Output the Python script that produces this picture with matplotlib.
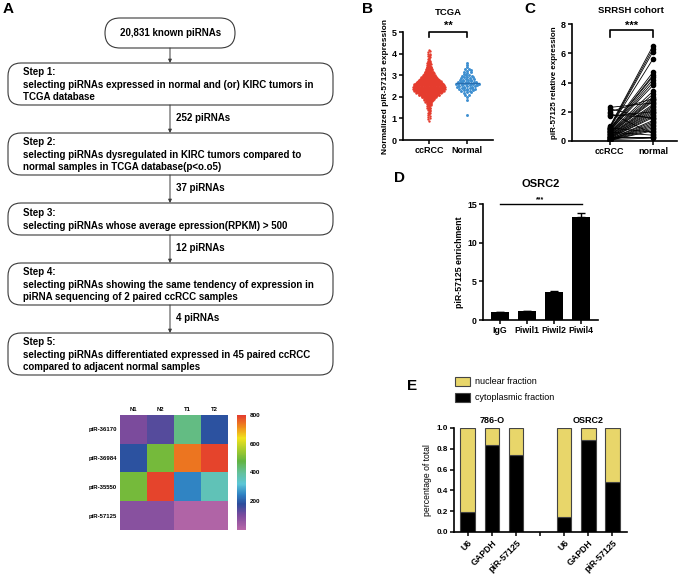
import numpy as np
import matplotlib
matplotlib.use("Agg")
import matplotlib.pyplot as plt
from matplotlib.patches import FancyBboxPatch, Rectangle
from matplotlib.colors import LinearSegmentedColormap

plt.rcParams["font.family"] = ["Liberation Sans", "DejaVu Sans"]
plt.rcParams["font.weight"] = "bold"
plt.rcParams["axes.labelweight"] = "bold"

W, H = 685, 574

# ---- data ----
flow_top = "20,831 known piRNAs"
flow_steps = [
    "Step 1:\nselecting piRNAs expressed in normal and (or) KIRC tumors in\nTCGA database",
    "Step 2:\nselecting piRNAs dysregulated in KIRC tumors compared to\nnormal samples in TCGA database(p<o.o5)",
    "Step 3:\nselecting piRNAs whose average epression(RPKM) > 500",
    "Step 4:\nselecting piRNAs showing the same tendency of expression in\npiRNA sequencing of 2 paired ccRCC samples",
    "Step 5:\nselecting piRNAs differentiated expressed in 45 paired ccRCC\ncompared to adjacent normal samples",
]
flow_counts = ["252 piRNAs", "37 piRNAs", "12 piRNAs", "4 piRNAs"]

heat_rows = ["piR-36170", "piR-36984", "piR-35550", "piR-57125"]
heat_cols = ["N1", "N2", "T1", "T2"]
heat_vals = [
    [100, 140, 420, 190],
    [190, 500, 740, 790],
    [500, 790, 250, 360],
    [80, 80, 15, 15],
]

# TCGA: expression levels and number of samples at each level
tcga_ccrcc_levels = [0.9, 1.0, 1.1, 1.2, 1.3, 1.4, 1.5, 1.6, 1.7, 1.8, 1.9, 2.0,
                     2.1, 2.2, 2.3, 2.4, 2.5, 2.6, 2.7, 2.8, 2.9, 3.0, 3.1, 3.2,
                     3.3, 3.4, 3.5, 3.6, 3.7, 3.8, 3.9, 4.0, 4.1, 4.2]
tcga_ccrcc_counts = [1, 2, 2, 3, 3, 4, 5, 6, 8, 12, 18, 25,
                     35, 45, 52, 55, 55, 50, 42, 35, 28, 22, 17, 13,
                     10, 8, 6, 5, 4, 3, 3, 2, 2, 1]
tcga_normal_levels = [1.2, 1.9, 2.0, 2.1, 2.2, 2.3, 2.4, 2.5, 2.6, 2.7, 2.8,
                      2.9, 3.0, 3.1, 3.2, 3.3, 3.4, 3.5, 3.6]
tcga_normal_counts = [1, 1, 1, 2, 3, 5, 7, 9, 10, 8, 6, 5, 4, 3, 3, 2, 1, 1, 1]
tcga_normal_mean = 2.62

srrsh_ccrcc = [2.3, 2.2, 2.0, 1.9, 1.8, 1.7, 1.0, 0.95, 0.9, 0.9, 0.85, 0.8, 0.8, 0.75, 0.7,
               0.7, 0.65, 0.6, 0.6, 0.55, 0.5, 0.5, 0.45, 0.4, 0.4, 0.35, 0.3, 0.3, 0.25, 0.25,
               0.2, 0.2, 0.15, 0.15, 0.1, 0.1, 0.1, 0.08, 0.05, 0.05, 0.9, 0.6, 0.3, 0.2, 0.1]
srrsh_normal = [2.6, 1.5, 2.9, 0.5, 1.6, 2.0, 6.5, 6.3, 6.1, 5.6, 4.7, 4.5, 4.4, 4.2, 4.0,
                3.8, 3.4, 3.2, 3.0, 2.9, 2.8, 2.7, 2.5, 2.4, 2.3, 2.2, 2.1, 2.0, 1.9, 1.8,
                1.7, 1.6, 1.4, 1.3, 1.2, 1.1, 1.0, 0.9, 0.8, 0.7, 0.6, 0.4, 0.3, 0.25, 0.2]

rip_labels = ["IgG", "Piwil1", "Piwil2", "Piwil4"]
rip_vals = [1.0, 1.15, 3.65, 13.35]
rip_err = [0.03, 0.05, 0.08, 0.45]

frac_labels = ["U6", "GAPDH", "piR-57125"]
frac_groups = ["786-O", "OSRC2"]
cyto_786 = [0.19, 0.84, 0.74]
cyto_osrc2 = [0.14, 0.88, 0.48]


def px(l, t, r, b):
    return [l / W, 1 - b / H, (r - l) / W, (b - t) / H]


def style_axes(ax, fs=6.5):
    for s in ["top", "right"]:
        ax.spines[s].set_visible(False)
    for s in ["left", "bottom"]:
        ax.spines[s].set_linewidth(1.2)
    ax.tick_params(width=1.1, length=3, labelsize=fs, pad=1.5)
    for lab in ax.get_xticklabels() + ax.get_yticklabels():
        lab.set_fontweight("bold")


fig = plt.figure(figsize=(W / 100, H / 100), dpi=100)

# background canvas in pixel coordinates
bg = fig.add_axes([0, 0, 1, 1])
bg.set_xlim(0, W)
bg.set_ylim(H, 0)
bg.axis("off")

for lab, (x, y) in zip("ABCDE", [(3, 9), (362, 9), (524, 9), (394, 178), (407, 386)]):
    bg.text(x, y, lab, fontsize=11, fontweight="bold", va="center", ha="left")

# ---- A: flowchart ----
ec = "#3a3a3a"
bg.add_patch(FancyBboxPatch((105, 18), 130, 30, boxstyle="round,pad=0,rounding_size=15",
                            fc="white", ec=ec, lw=0.8))
bg.text(171, 33, flow_top, fontsize=7, ha="center", va="center", fontweight="bold")
boxes = [(63, 105), (133, 175), (203, 235), (263, 305), (333, 375)]
for (t, b), txt in zip(boxes, flow_steps):
    bg.add_patch(FancyBboxPatch((8, t), 325, b - t, boxstyle="round,pad=0,rounding_size=13",
                                fc="white", ec=ec, lw=0.8))
    bg.text(23, (t + b) / 2 + 0.5, txt, fontsize=7, ha="left", va="center",
            fontweight="bold", linespacing=1.3)
arrow_spans = [(48, 63)] + [(boxes[i][1], boxes[i + 1][0]) for i in range(4)]
for y0, y1 in arrow_spans:
    bg.annotate("", xy=(170, y1), xytext=(170, y0),
                arrowprops=dict(arrowstyle="-|>", lw=0.7, color=ec, mutation_scale=5,
                                shrinkA=0, shrinkB=0))
for (y0, y1), txt in zip(arrow_spans[1:], flow_counts):
    bg.text(176, (y0 + y1) / 2 - 1, txt, fontsize=7, ha="left", va="center", fontweight="bold")

# heatmap
cmap = LinearSegmentedColormap.from_list("piheat", [
    (0.0, "#b868a8"), (0.125, "#7c4b9d"), (0.225, "#2c4c9c"), (0.31, "#2f82c3"),
    (0.40, "#5cc6d6"), (0.50, "#64c09a"), (0.60, "#62b441"), (0.70, "#a9cc2c"),
    (0.80, "#f1e21c"), (0.90, "#ef8a1c"), (1.0, "#e43b2f")])
axh = fig.add_axes(px(120, 415, 228, 530))
im = axh.imshow(np.array(heat_vals), cmap=cmap, vmin=0, vmax=800, aspect="auto")
axh.set_xticks(range(len(heat_cols)))
axh.set_xticklabels(heat_cols, fontsize=4.3)
axh.xaxis.tick_top()
axh.set_yticks(range(len(heat_rows)))
axh.set_yticklabels(heat_rows, fontsize=4.3)
axh.tick_params(length=0, pad=2)
for s in axh.spines.values():
    s.set_visible(False)
cax = fig.add_axes(px(237, 415, 246, 530))
cb = fig.colorbar(im, cax=cax, ticks=[200, 400, 600, 800])
cb.outline.set_visible(False)
cax.tick_params(labelsize=4.5, length=2, color="white", pad=1)

# ---- B: TCGA ----
axb = fig.add_axes(px(403, 32, 493, 140))
for xc, levels, counts, hw, col, ms in [
        (0, tcga_ccrcc_levels, tcga_ccrcc_counts, 0.42, "#e53c2e", 3.0),
        (1, tcga_normal_levels, tcga_normal_counts, 0.30, "#3d8fd1", 4.5)]:
    maxn = max(counts)
    xs, ys = [], []
    for lv, n in zip(levels, counts):
        w = hw * n / maxn
        off = np.linspace(-w, w, n) if n > 1 else np.array([0.0])
        xs.extend(xc + off)
        ys.extend(lv + ((np.arange(n) % 3) - 1) * 0.03)
    axb.scatter(xs, ys, s=ms, color=col, lw=0, zorder=3)
axb.plot([1 - 0.3, 1 + 0.3], [tcga_normal_mean] * 2, color="#2a6fb0", lw=1.0, zorder=4)
axb.set_xlim(-0.68, 1.68)
axb.set_ylim(0, 5)
axb.set_yticks(range(6))
axb.set_xticks([0, 1])
axb.set_xticklabels(["ccRCC", "Normal"])
axb.set_ylabel("Normalized piR-57125 expression", fontsize=6, labelpad=2)
style_axes(axb)
axb.plot([0, 0, 1, 1], [4.75, 5.0, 5.0, 4.75], color="black", lw=1.2, clip_on=False)
axb.text(0.5, 5.05, "**", ha="center", va="bottom", fontsize=8, fontweight="bold")
axb.text(0.5, 5.9, "TCGA", ha="center", va="center", fontsize=6.8, fontweight="bold")

# ---- C: SRRSH cohort ----
axc = fig.add_axes(px(572, 24, 677, 141))
for a, b in zip(srrsh_ccrcc, srrsh_normal):
    axc.plot([0, 1], [a, b], color="black", lw=0.6, zorder=2)
axc.scatter([0] * len(srrsh_ccrcc), srrsh_ccrcc, s=9, color="black", zorder=3)
axc.scatter([1] * len(srrsh_normal), srrsh_normal, s=9, color="black", zorder=3)
axc.set_xlim(-0.88, 1.56)
axc.set_ylim(0, 8)
axc.set_yticks([0, 2, 4, 6, 8])
axc.set_xticks([0, 1])
axc.set_xticklabels(["ccRCC", "normal"])
axc.set_ylabel("piR-57125 relative expression", fontsize=5.8, labelpad=2)
style_axes(axc)
axc.plot([0, 0, 1, 1], [7.1, 7.6, 7.6, 7.1], color="black", lw=1.2, clip_on=False)
axc.text(0.5, 7.55, "***", ha="center", va="bottom", fontsize=8, fontweight="bold")
axc.text(0.5, 8.95, "SRRSH cohort", ha="center", va="center", fontsize=6.8, fontweight="bold")

# ---- D: OSRC2 RIP ----
axd = fig.add_axes(px(483, 204, 598, 320))
xd = np.arange(len(rip_labels))
axd.bar(xd, rip_vals, width=0.67, color="black")
axd.errorbar(xd, rip_vals, yerr=[[0] * 4, rip_err], fmt="none", ecolor="black",
             elinewidth=1.0, capsize=3, capthick=1.0)
axd.set_xlim(-0.63, 3.63)
axd.set_ylim(0, 15)
axd.set_yticks([0, 5, 10, 15])
axd.set_xticks(xd)
axd.set_xticklabels(rip_labels)
axd.set_ylabel("piR-57125 enrichment", fontsize=6.3, labelpad=2)
style_axes(axd, fs=6.3)
axd.plot([0, 3.05], [15, 15], color="black", lw=1.0, clip_on=False)
axd.text(1.5, 15.1, "***", ha="center", va="bottom", fontsize=5, fontweight="bold")
axd.set_title("OSRC2", fontsize=8, fontweight="bold", pad=12)

# ---- E: fractionation ----
axe = fig.add_axes(px(454, 428, 627, 532))
pos = [0, 1, 2, 4, 5, 6]
cyto = cyto_786 + cyto_osrc2
nuc = [1 - c for c in cyto]
yellow = "#e8d66a"
axe.bar(pos, cyto, width=0.62, color="black", edgecolor="#444444", lw=0.8)
axe.bar(pos, nuc, bottom=cyto, width=0.62, color=yellow, edgecolor="#444444", lw=0.8)
axe.set_xlim(-0.58, 6.62)
axe.set_ylim(0, 1.0)
axe.set_yticks(np.linspace(0, 1, 6))
axe.set_yticklabels([f"{v:.1f}" for v in np.linspace(0, 1, 6)])
axe.set_xticks([0, 1, 2, 3, 4, 5, 6])
axe.set_xticklabels(frac_labels + [""] + frac_labels, rotation=45, ha="right",
                    rotation_mode="anchor")
axe.set_ylabel("percentage of total", fontsize=6.2, fontweight="normal", labelpad=3)
style_axes(axe, fs=5.8)
axe.tick_params(axis="x", labelsize=6.3)
for gx, g in zip([1, 5], frac_groups):
    axe.text(gx, 1.03, g, ha="center", va="bottom", fontsize=6.5, fontweight="bold")

# legend for E
bg.add_patch(Rectangle((455, 377), 15, 9, fc=yellow, ec="#444444", lw=0.8))
bg.add_patch(Rectangle((455, 393), 15, 9, fc="black", ec="#444444", lw=0.8))
bg.text(475, 381.5, "nuclear fraction", fontsize=6.5, fontweight="normal", va="center")
bg.text(475, 397.5, "cytoplasmic fraction", fontsize=6.5, fontweight="normal", va="center")

fig.savefig("out.png", dpi=100)
